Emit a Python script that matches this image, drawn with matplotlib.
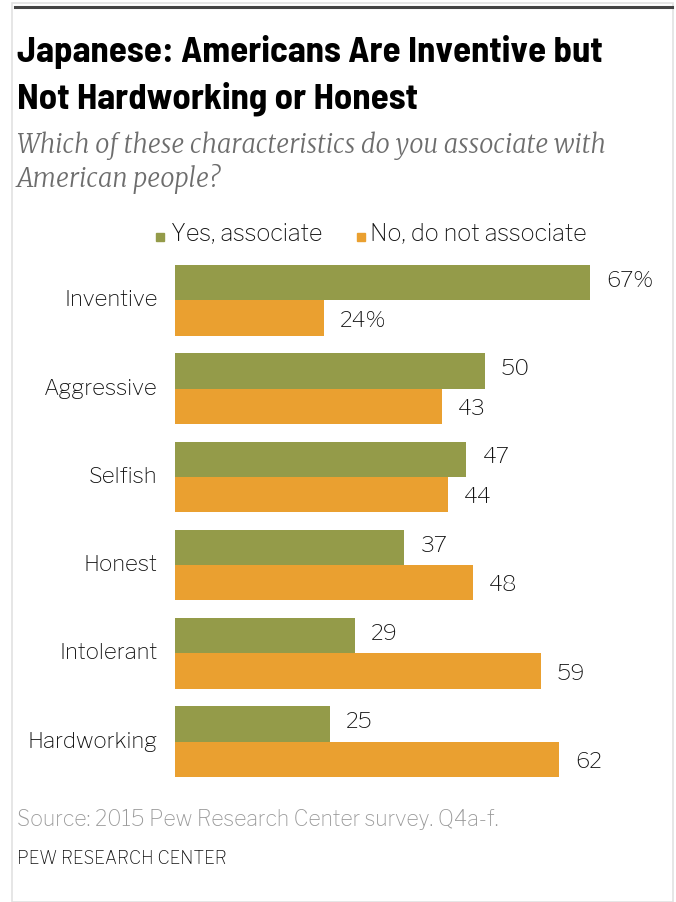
import matplotlib
matplotlib.use("Agg")
import matplotlib.pyplot as plt
from matplotlib.patches import Rectangle
from matplotlib.lines import Line2D

categories = ["Inventive", "Aggressive", "Selfish", "Honest", "Intolerant", "Hardworking"]
yes_vals = [67, 50, 47, 37, 29, 25]
no_vals = [24, 43, 44, 48, 59, 62]
series_names = ["Yes, associate", "No, do not associate"]

GREEN = "#949b49"
ORANGE = "#eaa030"
BODY = ["Libre Franklin", "DejaVu Sans"]
TITLEF = ["Barlow Semi Condensed", "DejaVu Sans"]
SERIF = ["Merriweather", "DejaVu Serif"]

W, H = 676, 902
fig = plt.figure(figsize=(W / 100, H / 100), dpi=100)
fig.patch.set_facecolor("white")

def fx(px):
    return px / W

def fy(py):
    return 1 - py / H

# frame
fig.add_artist(Rectangle((fx(12), fy(902)), fx(673) - fx(12), fy(3) - fy(902),
                         transform=fig.transFigure, fill=False, edgecolor="#e2e2e2", lw=1.2))
fig.add_artist(Line2D([fx(15), fx(672)], [fy(6.5), fy(6.5)], transform=fig.transFigure,
                      color="#444444", lw=2.2))

# title
fig.text(fx(17), fy(62), "Japanese: Americans Are Inventive but", family=TITLEF,
         fontweight="bold", fontsize=26.5, color="black", va="baseline")
fig.text(fx(17), fy(108), "Not Hardworking or Honest", family=TITLEF,
         fontweight="bold", fontsize=26.5, color="black", va="baseline")
fig.text(fx(17), fy(153), "Which of these characteristics do you associate with",
         family=SERIF, style="italic", fontsize=18.3, color="#6d6d6d", va="baseline")
fig.text(fx(17), fy(187), "American people?",
         family=SERIF, style="italic", fontsize=18.3, color="#6d6d6d", va="baseline")

# axes
left_px, right_px = 175, 175 + 6.2 * 75
top_px, bot_px = 265, 777
ax = fig.add_axes([fx(left_px), fy(bot_px), fx(right_px) - fx(left_px), fy(top_px) - fy(bot_px)])
ax.set_xlim(0, 75)
ax.set_ylim(5.4, -0.4)
ax.axis("off")

h = 0.4
pos = list(range(len(categories)))
ax.barh([p - h / 2 for p in pos], yes_vals, height=h, color=GREEN, label=series_names[0])
ax.barh([p + h / 2 for p in pos], no_vals, height=h, color=ORANGE, label=series_names[1])

FS = 16
TXT = "#111111"
for i, (y, n) in enumerate(zip(yes_vals, no_vals)):
    ys = f"{y}%" if i == 0 else f"{y}"
    ns = f"{n}%" if i == 0 else f"{n}"
    ax.text(y + 2.6, i - h / 2 - 0.02, ys, family=BODY, fontsize=FS, color=TXT,
            va="center", ha="left")
    ax.text(n + 2.6, i + h / 2 + 0.03, ns, family=BODY, fontsize=FS, color=TXT,
            va="center", ha="left")
    ax.text(-2.8, i, categories[i], family=BODY, fontsize=FS, color=TXT,
            va="center", ha="right")

# legend
fig.add_artist(Rectangle((fx(156), fy(241)), fx(8), fy(233) - fy(241),
                         transform=fig.transFigure, color=GREEN))
fig.add_artist(Rectangle((fx(357), fy(241)), fx(8), fy(233) - fy(241),
                         transform=fig.transFigure, color=ORANGE))
fig.text(fx(171), fy(234), series_names[0], family=BODY, fontsize=16.8, color=TXT,
         va="center")
fig.text(fx(370), fy(234), series_names[1], family=BODY, fontsize=16.8, color=TXT,
         va="center")

# footer
fig.text(fx(17), fy(820), "Source: 2015 Pew Research Center survey. Q4a-f.", family=BODY,
         fontsize=15.3, color="#9a9a9a", va="center")
fig.text(fx(17), fy(858), "PEW RESEARCH CENTER", family=BODY, fontweight="bold",
         fontsize=12.5, color="#111111", va="center")

fig.savefig("out.png", dpi=100)
